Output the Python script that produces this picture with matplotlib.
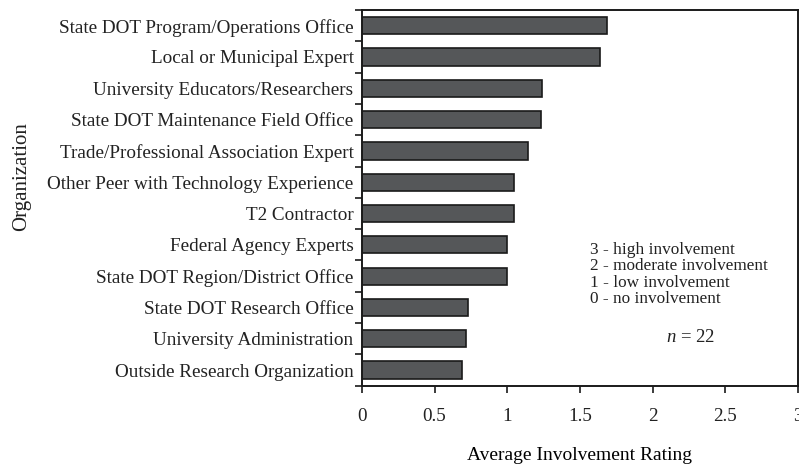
import numpy as np
import matplotlib.pyplot as plt
from matplotlib.ticker import FixedLocator

plt.rcParams['font.family'] = ['Liberation Serif', 'DejaVu Serif']
plt.rcParams['mathtext.fontset'] = 'custom'
plt.rcParams['mathtext.it'] = 'Liberation Serif:italic'
plt.rcParams['mathtext.rm'] = 'Liberation Serif'
plt.rcParams['text.color'] = '#222222'
plt.rcParams['xtick.color'] = '#1a1a1a'
plt.rcParams['ytick.color'] = '#1a1a1a'
plt.rcParams['xtick.labelcolor'] = '#222222'
plt.rcParams['ytick.labelcolor'] = '#222222'

organizations = [
    'State DOT Program/Operations Office',
    'Local or Municipal Expert',
    'University Educators/Researchers',
    'State DOT Maintenance Field Office',
    'Trade/Professional Association Expert',
    'Other Peer with Technology Experience',
    'T2 Contractor',
    'Federal Agency Experts',
    'State DOT Region/District Office',
    'State DOT Research Office',
    'University Administration',
    'Outside Research Organization',
]
ratings = [1.69, 1.64, 1.24, 1.23, 1.14, 1.05, 1.05, 1.00, 1.00, 0.73, 0.715, 0.69]
x_ticks = [0, 0.5, 1, 1.5, 2, 2.5, 3]
x_tick_labels = ['0', '0.5', '1', '1.5', '2', '2.5', '3']
scale_notes = ['3 - high involvement', '2 - moderate involvement',
               '1 - low involvement', '0 - no involvement']

fig = plt.figure(figsize=(7.99, 4.67), dpi=100)
ax = fig.add_axes([0.453, 0.174, 0.5455, 0.8046])

y = np.arange(len(organizations))
ax.barh(y, ratings, height=0.55, color='#555759', edgecolor='#1a1a1a', linewidth=1.2)

ax.set_xlim(0, 3)
ax.set_ylim(len(organizations) - 0.5, -0.5)
ax.set_xticks(x_ticks)
ax.set_xticklabels(x_tick_labels)
ax.set_yticks(y)
ax.set_yticklabels(organizations)
ax.tick_params(axis='y', which='major', length=0, labelsize=13.8, pad=6)
ax.yaxis.set_minor_locator(FixedLocator(np.arange(-0.5, len(organizations), 1)))
ax.tick_params(axis='y', which='minor', length=5, width=1.2, direction='out')
ax.tick_params(axis='x', which='major', length=5, width=1.2, direction='out', labelsize=13.8, pad=11)

for s in ax.spines.values():
    s.set_linewidth(1.4)
    s.set_color('#1a1a1a')

ax.set_xlabel('Average Involvement Rating', fontsize=14, labelpad=16)
fig.text(0.027, 1 - 177 / 467, 'Organization', fontsize=15, rotation=90,
         ha='center', va='center')

ax.text(1.57, 6.9, '\n'.join(scale_notes), fontsize=12.4, va='top', ha='left',
        linespacing=1.04)
ax.text(2.09, 9.95, '$n$ = 22', fontsize=13.5, va='center', ha='left')

fig.savefig('out.png', dpi=100)
